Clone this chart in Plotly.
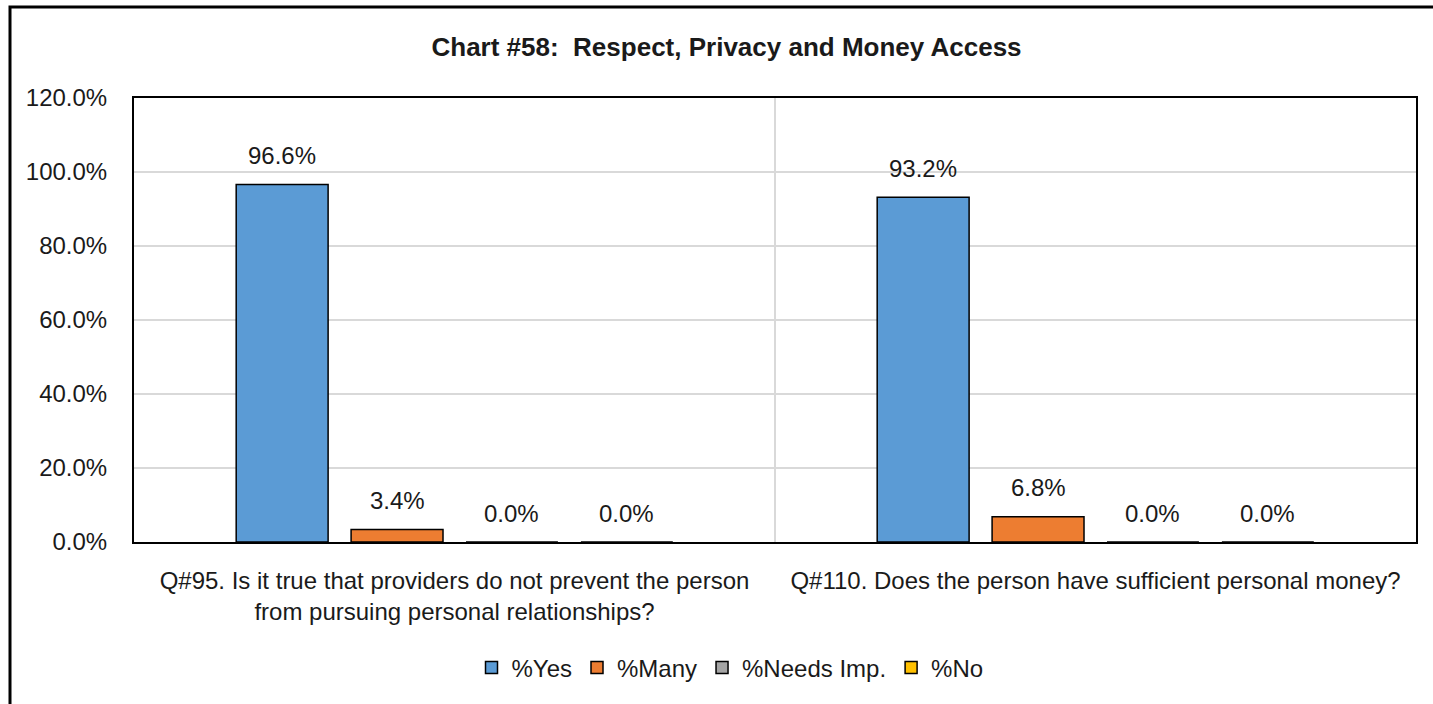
import plotly.graph_objects as go

# Survey questions shown on the category axis
categories = [
    "Q#95. Is it true that providers do not prevent the person<br>from pursuing personal relationships?",
    "Q#110. Does the person have sufficient personal money?",
]

# Response shares (percent) per series
pct_yes = [96.6, 93.2]
pct_many = [3.4, 6.8]
pct_needs_imp = [0.0, 0.0]
pct_no = [0.0, 0.0]

series_names = ["%Yes", "%Many", "%Needs Imp.", "%No"]
series_colors = ["#5B9BD5", "#ED7D31", "#A5A5A5", "#FFC000"]
series_values = [pct_yes, pct_many, pct_needs_imp, pct_no]

y_ticks = [0, 20, 40, 60, 80, 100, 120]
y_tick_labels = [f"{t:.1f}%" for t in y_ticks]

FONT = "Liberation Sans Narrow, Arial Narrow, Liberation Sans, Arial, sans-serif"
TXT = "#1a1a1a"
FS = 24

W, H = 1433, 704
ML, MR, MT, MB = 134, 17, 98, 162
PW, PH = W - ML - MR, H - MT - MB

BARGAP, GROUPGAP = 0.283, 0.2
n_series = len(series_names)
# width of one bar slot inside a category group, in pixels
slot_px = (PW / len(categories)) * (1 - BARGAP) / n_series

fig = go.Figure()
for i, (name, color, vals) in enumerate(zip(series_names, series_colors, series_values)):
    fig.add_trace(go.Bar(
        name=name,
        x=categories,
        y=vals,
        marker=dict(color=color, line=dict(color="black", width=1.5)),
        cliponaxis=False,
    ))
    # value labels above each bar
    for cat, v in zip(categories, vals):
        fig.add_annotation(
            x=cat, y=v, xref="x", yref="y",
            text=f"{v:.1f}%", showarrow=False,
            xanchor="center", yanchor="middle",
            xshift=(i - (n_series - 1) / 2) * slot_px, yshift=29,
            font=dict(family=FONT, size=FS, color=TXT),
        )


def px_to_paper_x(px):
    return (px - ML) / PW


def px_to_paper_y(py):
    return (H - MB - py) / PH


# Outer chart frame (extends past the right and bottom edges of the page)
fig.add_shape(
    type="rect", xref="paper", yref="paper",
    x0=px_to_paper_x(10), x1=px_to_paper_x(1460),
    y0=px_to_paper_y(730), y1=px_to_paper_y(7),
    line=dict(color="black", width=3), fillcolor="rgba(0,0,0,0)", layer="below",
)

fig.update_layout(
    width=W, height=H,
    margin=dict(l=ML, r=MR, t=MT, b=MB, autoexpand=False),
    paper_bgcolor="white", plot_bgcolor="white",
    barmode="group", bargap=BARGAP, bargroupgap=GROUPGAP,
    font=dict(family=FONT, size=FS, color=TXT),
    title=dict(
        text="<b>Chart #58:  Respect, Privacy and Money Access</b>",
        x=0.507, xanchor="center", y=1 - 47 / H, yanchor="middle",
        xref="container", yref="container",
        font=dict(family=FONT, size=26, color=TXT),
    ),
    legend=dict(
        orientation="h", x=px_to_paper_x(730), xanchor="center",
        y=px_to_paper_y(668), yanchor="middle",
        font=dict(family=FONT, size=FS, color=TXT),
        itemwidth=30, traceorder="normal",
    ),
    xaxis=dict(
        showline=True, mirror=True, linecolor="black", linewidth=2,
        showgrid=True, gridcolor="#D9D9D9", gridwidth=1.5,
        tickson="boundaries", ticks="", ticklen=0, tickangle=0,
        ticklabelstandoff=16, automargin=False,
        tickfont=dict(family=FONT, size=FS, color=TXT),
        fixedrange=True,
    ),
    yaxis=dict(
        range=[0, 120], tickvals=y_ticks, ticktext=y_tick_labels,
        showline=True, mirror=True, linecolor="black", linewidth=2,
        showgrid=True, gridcolor="#D9D9D9", gridwidth=1.5,
        ticks="", zeroline=False, automargin=False,
        ticklabelstandoff=20,
        tickfont=dict(family=FONT, size=FS, color=TXT),
        fixedrange=True,
    ),
)

fig.write_html("out.html")
